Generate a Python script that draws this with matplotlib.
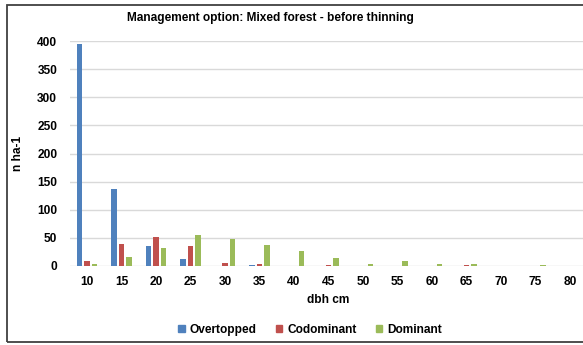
import matplotlib
matplotlib.use("Agg")
import matplotlib.pyplot as plt
import numpy as np
from matplotlib.patches import Rectangle

categories = ["10", "15", "20", "25", "30", "35", "40", "45", "50", "55", "60", "65", "70", "75", "80"]
overtopped = [395, 137, 35, 12, 0, 1, 0, 0, 0, 0, 0, 0, 0, 0, 0]
codominant = [9, 40, 51, 35, 5, 4, 0, 1, 0, 0, 0, 1, 0, 0, 0]
dominant = [3, 16, 32, 55, 48, 38, 27, 15, 4, 9, 4, 4, 0, 1, 0]
series_names = ["Overtopped", "Codominant", "Dominant"]
colors = ["#4F81BD", "#C0504D", "#9BBB59"]

plt.rcParams['font.family'] = ['Liberation Sans', 'DejaVu Sans']
W, H = 583, 345
fig = plt.figure(figsize=(W / 100, H / 100), dpi=100)

left = 69.75 / W
right = 587.25 / W
bottom = (H - 266) / H
top = (H - 41) / H
ax = fig.add_axes([left, bottom, right - left, top - bottom])

x = np.arange(len(categories))
bw = 0.165
off = 0.218
for i, (vals, name, c) in enumerate(zip([overtopped, codominant, dominant], series_names, colors)):
    ax.bar(x + (i - 1) * off, vals, width=bw, color=c, label=name, zorder=3)

FS = 8.6
ax.set_xlim(-0.5, len(categories) - 0.5)
ax.set_ylim(0, 400)
ax.set_yticks(np.arange(0, 401, 50))
ax.set_xticks(x)
ax.set_xticklabels(categories)
ax.grid(axis='y', color='#D9D9D9', linewidth=1, zorder=0)
ax.set_axisbelow(True)
for s in ax.spines.values():
    s.set_visible(False)
ax.tick_params(axis='x', length=0, labelsize=FS, pad=7)
ax.tick_params(axis='y', length=0, labelsize=FS, pad=9)
for lab in ax.get_xticklabels() + ax.get_yticklabels():
    lab.set_fontweight('bold')

fig.text((69.75 + 587.25) / 2 / W, 1 - 300 / H, "dbh cm", ha='center', va='center',
         fontsize=FS, fontweight='bold')
fig.text(18 / W, 1 - 153 / H, "n ha-1", ha='center', va='center', rotation=90,
         fontsize=FS, fontweight='bold')
fig.text(270 / W, 1 - 18 / H, "Management option: Mixed forest - before thinning",
         ha='center', va='center', fontsize=FS, fontweight='bold')

handles = [plt.Rectangle((0, 0), 1, 1, color=c) for c in colors]
leg = fig.legend(handles, series_names, loc='center', bbox_to_anchor=(310 / W, 1 - 330 / H),
                 ncol=3, frameon=False, handlelength=0.55, handleheight=0.55,
                 columnspacing=1.6, handletextpad=0.4,
                 prop={'size': FS, 'weight': 'bold'})

border = Rectangle((7 / W, 3 / H), 1.2, (340 - 3) / H, transform=fig.transFigure,
                   fill=False, edgecolor='#404040', linewidth=1.3, clip_on=False)
fig.patches.append(border)

fig.savefig("out.png", dpi=100)
